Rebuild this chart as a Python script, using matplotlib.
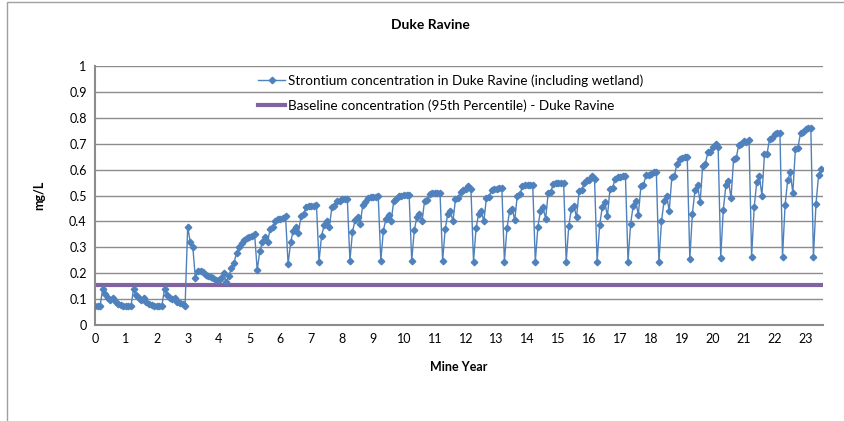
import numpy as np
import matplotlib
matplotlib.use('Agg')
import matplotlib.pyplot as plt
from matplotlib.patches import Rectangle

plt.rcParams['font.family'] = ['Lato', 'DejaVu Sans']

# monthly strontium concentration (mg/L), one row per 12 samples
strontium = [
    0.075, 0.075, 0.075, 0.14, 0.12, 0.105, 0.095, 0.105, 0.09, 0.082, 0.078, 0.075,
    0.075, 0.075, 0.075, 0.14, 0.115, 0.105, 0.098, 0.105, 0.09, 0.083, 0.078, 0.075,
    0.075, 0.075, 0.075, 0.14, 0.115, 0.105, 0.10, 0.105, 0.09, 0.085, 0.08, 0.075,
    0.38, 0.32, 0.30,
    0.18, 0.21, 0.21, 0.205, 0.195, 0.19, 0.185, 0.18, 0.175, 0.175, 0.18, 0.20,
    0.165, 0.19, 0.22, 0.24, 0.28, 0.30, 0.315, 0.328, 0.336, 0.34, 0.345, 0.35,
    0.212, 0.285, 0.32, 0.34, 0.32, 0.37, 0.38, 0.40, 0.41, 0.41, 0.415, 0.42,
    0.235, 0.32, 0.365, 0.38, 0.357, 0.42, 0.43, 0.455, 0.46, 0.46, 0.46, 0.465,
    0.245, 0.345, 0.385, 0.40, 0.378, 0.455, 0.46, 0.478, 0.48, 0.485, 0.487, 0.485,
    0.248, 0.36, 0.405, 0.418, 0.39, 0.465, 0.475, 0.49, 0.495, 0.495, 0.495, 0.497,
    0.248, 0.365, 0.41, 0.425, 0.40, 0.478, 0.485, 0.50, 0.50, 0.502, 0.502, 0.502,
    0.248, 0.367, 0.416, 0.43, 0.40, 0.48, 0.483, 0.505, 0.51, 0.51, 0.51, 0.51,
    0.248, 0.37, 0.43, 0.44, 0.40, 0.485, 0.49, 0.515, 0.52, 0.525, 0.535, 0.525,
    0.245, 0.375, 0.43, 0.44, 0.40, 0.49, 0.495, 0.52, 0.525, 0.525, 0.53, 0.53,
    0.245, 0.375, 0.44, 0.45, 0.405, 0.50, 0.505, 0.535, 0.54, 0.54, 0.54, 0.54,
    0.245, 0.38, 0.44, 0.455, 0.41, 0.51, 0.515, 0.545, 0.548, 0.55, 0.55, 0.55,
    0.244, 0.384, 0.448, 0.46, 0.416, 0.517, 0.52, 0.55, 0.56, 0.56, 0.577, 0.565,
    0.244, 0.387, 0.455, 0.474, 0.42, 0.526, 0.53, 0.565, 0.57, 0.572, 0.577, 0.575,
    0.244, 0.39, 0.46, 0.48, 0.425, 0.535, 0.54, 0.578, 0.58, 0.585, 0.59, 0.59,
    0.242, 0.40, 0.48, 0.50, 0.44, 0.57, 0.575, 0.623, 0.64, 0.645, 0.648, 0.648,
    0.255, 0.43, 0.52, 0.54, 0.474, 0.616, 0.62, 0.668, 0.67, 0.687, 0.70, 0.687,
    0.26, 0.445, 0.54, 0.558, 0.49, 0.642, 0.645, 0.696, 0.70, 0.71, 0.705, 0.716,
    0.264, 0.455, 0.554, 0.574, 0.50, 0.66, 0.662, 0.72, 0.722, 0.739, 0.74, 0.742,
    0.264, 0.464, 0.56, 0.59, 0.51, 0.68, 0.685, 0.742, 0.745, 0.758, 0.76, 0.76,
    0.264, 0.468, 0.578, 0.603,
]
mine_year = np.arange(len(strontium)) / 12.0

baseline = 0.155
baseline_years = [0, 23.55]

x_ticks = list(range(0, 24))
y_ticks = [0, 0.1, 0.2, 0.3, 0.4, 0.5, 0.6, 0.7, 0.8, 0.9, 1]
y_labels = ['0', '0.1', '0.2', '0.3', '0.4', '0.5', '0.6', '0.7', '0.8', '0.9', '1']

fig = plt.figure(figsize=(8.45, 4.21), dpi=100)
ax = fig.add_axes([0.1124, 0.228, 0.8612, 0.615])

grey = '#8C8C8C'

ax.plot(mine_year, strontium, color='#4F81BD', lw=1, marker='D', ms=3.3,
        label='Strontium concentration in Duke Ravine (including wetland)', zorder=3)
ax.plot(baseline_years, [baseline, baseline], color='#8064A2', lw=3,
        label='Baseline concentration (95th Percentile) - Duke Ravine', zorder=2)

ax.set_xlim(0, 23.55)
ax.set_ylim(0, 1)
ax.set_xticks(x_ticks)
ax.set_yticks(y_ticks)
ax.set_yticklabels(y_labels)
ax.tick_params(length=0, labelsize=9, colors='black', pad=6)
ax.yaxis.grid(True, color=grey, lw=1)
ax.set_axisbelow(True)
for side in ['top', 'right']:
    ax.spines[side].set_visible(False)
for side in ['left', 'bottom']:
    ax.spines[side].set_color(grey)
    ax.spines[side].set_linewidth(1.5)

ax.set_xlabel('Mine Year', fontsize=9, fontweight='bold', labelpad=11)
ax.set_ylabel('mg/L', fontsize=9, fontweight='bold', labelpad=17)

ax.legend(loc='upper left', bbox_to_anchor=(0.215, 0.995), frameon=False,
          fontsize=9.7, handlelength=2.0, handletextpad=0.25, labelspacing=0.95,
          borderpad=0)

fig.text(0.509, 0.94, 'Duke Ravine', ha='center', va='center',
         fontsize=10, fontweight='bold')

fig.add_artist(Rectangle((7 / 845, -0.5), 2, 1.5 - 2 / 421, transform=fig.transFigure,
                         fill=False, edgecolor='#A0A0A0', lw=1))

fig.savefig('out.png', dpi=100)
